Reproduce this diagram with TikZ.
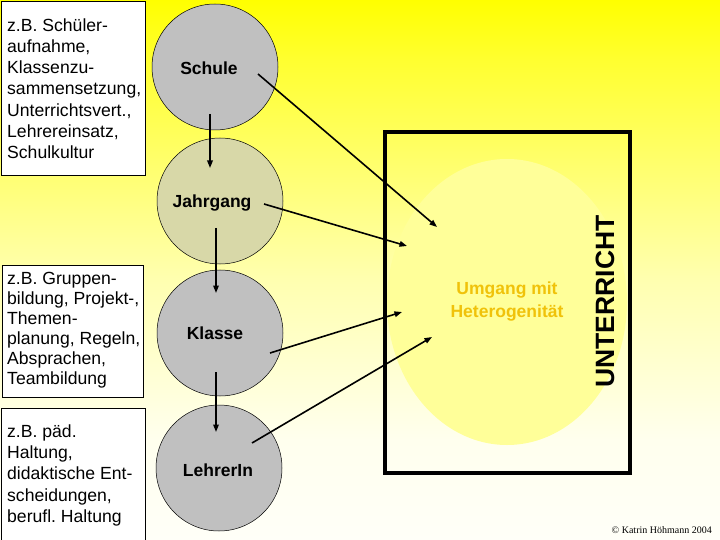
\documentclass[tikz,border=0pt]{standalone}
\usepackage{fontspec}
\setmainfont{Liberation Sans}
\newfontfamily\copyfont{Liberation Serif}
\usetikzlibrary{arrows.meta,shapes.geometric,calc}
\frenchspacing
\definecolor{bgA}{HTML}{FFFFF8}
\definecolor{bgB}{HTML}{FFFFEE}
\definecolor{bgC}{HTML}{FFFFB0}
\definecolor{bgD}{HTML}{FFFF30}
\definecolor{bgE}{HTML}{FFFF00}
\definecolor{circgray}{HTML}{C0C0C0}
\definecolor{circkhaki}{HTML}{D8D8A8}
\definecolor{paleyellow}{HTML}{FFFF99}
\definecolor{goldtext}{HTML}{F0C20A}
\pgfdeclareverticalshading{bgshade}{100bp}{color(0bp)=(bgA); color(25bp)=(bgA); color(34.26bp)=(bgB); color(49.07bp)=(bgC); color(69.44bp)=(bgD); color(75bp)=(bgE); color(100bp)=(bgE)}
\tikzset{
  tbox/.style={draw=black, line width=0.8bp, fill=white, anchor=north west, inner sep=0pt},
  btext/.style={anchor=north west, inner sep=0pt, align=left},
  circ/.style={circle, draw=black, line width=0.5bp, minimum size=126bp, inner sep=0pt},
  lbl/.style={font=\bfseries\fontsize{17.5bp}{20bp}\selectfont, inner sep=0pt},
  arr/.style={line width=1.6bp, -{Triangle[length=7.5bp,width=5.5bp]}}
}
\begin{document}
\begin{tikzpicture}[x=1bp,y=-1bp]
\useasboundingbox (0,0) rectangle (720,540);
\shade[shading=bgshade] (0,0) rectangle (720,540);

% text boxes
\node[tbox, minimum width=144bp, minimum height=174bp] (box1) at (1,1) {};
\node[btext, font=\fontsize{17.6bp}{21.2bp}\selectfont] (text1) at (7,18.3)
  {z.B. Schüler-\\aufnahme,\\Klassenzu-\\sammensetzung,\\Unterrichtsvert.,\\Lehrereinsatz,\\Schulkultur};
\node[tbox, minimum width=141bp, minimum height=132bp] (box2) at (2,265) {};
\node[btext, font=\fontsize{17.6bp}{20.1bp}\selectfont] (text2) at (7,271.6)
  {z.B. Gruppen-\\bildung, Projekt-,\\Themen-\\planung, Regeln,\\Absprachen,\\Teambildung};
\node[tbox, minimum width=144bp, minimum height=150bp] (box3) at (1,408) {};
\node[btext, font=\fontsize{17.6bp}{21.25bp}\selectfont] (text3) at (7,424.3)
  {z.B. päd.\\Haltung,\\didaktische Ent-\\scheidungen,\\berufl. Haltung};

% circles
\node[circ, fill=circgray] (schule) at (215,67) {};
\node[circ, fill=circkhaki] (jahrgang) at (220,201) {};
\node[circ, fill=circgray] (klasse) at (220,333) {};
\node[circ, fill=circgray] (lehrerin) at (219,468) {};
\node[lbl] (schuleL) at (209,68) {Schule};
\node[lbl] (jahrgangL) at (212,203) {Jahrgang};
\node[lbl] (klasseL) at (215,333) {Klasse};
\node[lbl] (lehrerinL) at (218,470.5) {LehrerIn};

% Unterricht area
\node[ellipse, fill=paleyellow, minimum width=240bp, minimum height=286bp, inner sep=0pt,
      align=center, text=goldtext, font=\bfseries\fontsize{17.5bp}{23bp}\selectfont] (umgang) at (507,302)
  {Umgang mit\\Heterogenität};
\node[draw=black, line width=4bp, minimum width=245bp, minimum height=341bp, inner sep=0pt] (ubox) at (507.5,302.5) {};
\node[rotate=90, font=\bfseries\fontsize{26.5bp}{30bp}\selectfont, inner sep=0pt] (unterricht) at (605,301.5) {UNTERRICHT};

% vertical arrows
\draw[arr] ($(schule.center)+(-5,47)$) -- ($(jahrgang.center)+(-10,-33)$);
\draw[arr] ($(jahrgang.center)+(-4,27)$) -- ($(klasse.center)+(-4,-40)$);
\draw[arr] ($(klasse.center)+(-4,39)$) -- ($(lehrerin.center)+(-3,-36)$);

% diagonal arrows
\draw[arr] ($(schule.center)+(43,7)$) -- ($(umgang.center)+(-70,-75)$);
\draw[arr] ($(jahrgang.center)+(44,3)$) -- ($(umgang.center)+(-100,-56)$);
\draw[arr] ($(klasse.center)+(50,20)$) -- ($(umgang.center)+(-105,10)$);
\draw[arr] ($(lehrerin.center)+(33,-25)$) -- ($(umgang.center)+(-75,35)$);

\node[anchor=base east, inner sep=0pt, font=\copyfont\fontsize{10bp}{12bp}\selectfont] (copy) at (712,533) {© Katrin Höhmann 2004};
\end{tikzpicture}
\end{document}
